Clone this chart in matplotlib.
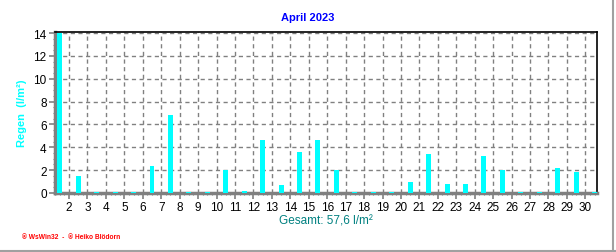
import numpy as np
import matplotlib
matplotlib.use("Agg")
import matplotlib.pyplot as plt
from matplotlib.ticker import MultipleLocator

plt.rcParams['font.family'] = ['Liberation Sans', 'DejaVu Sans']

# Tagesniederschlag April 2023 (l/m²)
tage = list(range(1, 31))
regen = [14.0, 1.5, 0.0, 0.0, 0.0, 2.4, 6.8, 0.0, 0.0, 2.0,
         0.2, 4.6, 0.7, 3.6, 4.6, 2.0, 0.0, 0.0, 0.0, 1.0,
         3.4, 0.8, 0.8, 3.2, 2.0, 0.0, 0.0, 2.2, 1.8, 0.0]
xticks = list(range(2, 31))
yticks = [0, 2, 4, 6, 8, 10, 12, 14]
titel = "April 2023"
gesamt = "Gesamt: 57,6 l/m²"

fig = plt.figure(figsize=(6.16, 2.53), dpi=100)
ax = fig.add_axes([55/616, 59/253, 542/616, 161/253])

x = np.array(tage) + 0.5
hoehe = np.maximum(np.array(regen), 0.06)  # null-Tage als Strich sichtbar
ax.bar(x, hoehe, width=0.27, color='#00ffff', zorder=3)

ax.set_xlim(1.24, 30.63)
ax.set_ylim(0, 14.1)
ax.set_xticks(xticks)
ax.set_yticks(yticks)
ax.xaxis.set_minor_locator(MultipleLocator(0.25))
ax.yaxis.set_minor_locator(MultipleLocator(0.5))
ax.tick_params(axis='both', which='major', labelsize=8.5, color='#808080',
               length=4, width=1.2)
ax.tick_params(axis='both', which='minor', color='#808080', length=1.5, width=0.8)
ax.tick_params(axis='x', pad=2)
ax.tick_params(axis='y', pad=2)
ax.grid(True, which='major', color='#808080', linestyle=(0, (3, 2.5)),
        linewidth=1, zorder=0)

for s in ['left', 'bottom']:
    ax.spines[s].set_color('#808080')
    ax.spines[s].set_linewidth(2.5)
for s in ['top', 'right']:
    ax.spines[s].set_color('black')
    ax.spines[s].set_linewidth(1.2)

ax.set_ylabel("Regen  (l/m²)", color='#00ffff', fontsize=8, fontweight='bold',
              labelpad=12)
ax.yaxis.set_label_coords(-28/542, 0.5)

fig.text(0.5, 1 - 18/253, titel, color='#0000ff', fontsize=8,
         fontweight='bold', ha='center', va='center')
fig.text(326/616, 1 - 222/253, gesamt, color='#008080', fontsize=8.5,
         ha='center', va='center')
fig.text(22/616, 1 - 238/253, "® WsWin32  -  ® Heiko Blödorn", color='#ff0000',
         fontsize=4.8, fontweight='bold', ha='left', va='center')

# Rahmen rechts und unten
fig.add_artist(plt.Line2D([613/616, 613/616], [0, 1], color='#a0a0a0', lw=1.5))
fig.add_artist(plt.Line2D([0, 1], [1/253, 1/253], color='#a0a0a0', lw=1.5))

fig.savefig("out.png", dpi=100)
